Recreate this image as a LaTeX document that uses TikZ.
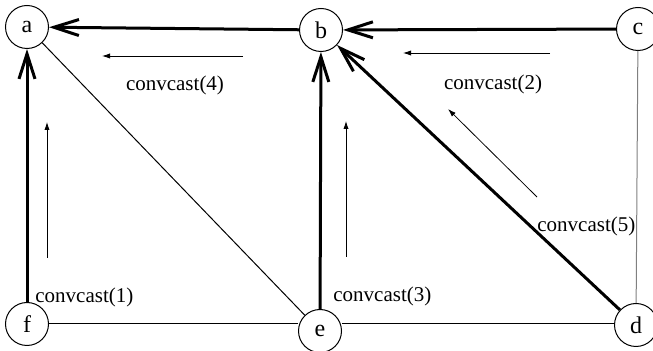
\documentclass[tikz,border=0pt]{standalone}
\usepackage{fontspec}
\setmainfont{Liberation Serif}
\usetikzlibrary{arrows.meta}
\definecolor{mid}{HTML}{808080}

\begin{document}
\begin{tikzpicture}[
  x=0.5pt,y=-0.5pt,
  font=\fontsize{10.5}{12}\selectfont,
  vertex/.style={draw,circle,line width=0.5pt,minimum size=21.5pt,inner sep=0pt,
    font=\fontsize{12}{14}\selectfont},
  cast/.style={-{Straight Barb[length=12.5pt,width=8pt]},line width=1.5pt},
  plain/.style={line width=0.5pt},
  hint/.style={-{Latex[length=4pt,width=2.6pt]},line width=0.4pt},
  tag/.style={inner sep=0pt}
]
\useasboundingbox (0,0) rectangle (653,351);
\node[vertex] (a) at (27,27) {a};
\node[vertex] (b) at (321,30) {b};
\node[vertex] (c) at (638,29) {c};
\node[vertex] (f) at (27,324) {f};
\node[vertex] (e) at (320,331) {e};
\node[vertex] (d) at (636,325) {d};
\draw[plain] (a) -- (e);
\draw[plain] (f.east) -- (e.west |- f.east);
\draw[plain] (e.east |- f.east) -- (d.west |- f.east);
\draw[plain,draw=mid] (c) -- (d);
\draw[cast] (b) -- (a);
\draw[cast] (c) -- (b);
\draw[cast] (f) -- (a);
\draw[cast] (e) -- (b);
\draw[cast] (d) -- (b);
% direction hints
\coordinate (h4s) at (243,56);
\coordinate (h4e) at (102,56);
\coordinate (h2s) at (550,53);
\coordinate (h2e) at (403,53);
\coordinate (h1s) at (47,258);
\coordinate (h1e) at (47,122);
\coordinate (h3s) at (346,257);
\coordinate (h3e) at (346,121);
\coordinate (h5s) at (537,197);
\coordinate (h5e) at (448,109);
\draw[hint] (h4s) -- (h4e);
\draw[hint] (h2s) -- (h2e);
\draw[hint] (h1s) -- (h1e);
\draw[hint] (h3s) -- (h3e);
\draw[hint] (h5s) -- (h5e);
\node[tag] (l4) at (175,85) {convcast(4)};
\node[tag] (l2) at (493,84) {convcast(2)};
\node[tag,anchor=west] (l1) at (35,297) {convcast(1)};
\node[tag,anchor=west] (l3) at (333,296) {convcast(3)};
\node[tag,anchor=west] (l5) at (537,226) {convcast(5)};
\end{tikzpicture}
\end{document}
